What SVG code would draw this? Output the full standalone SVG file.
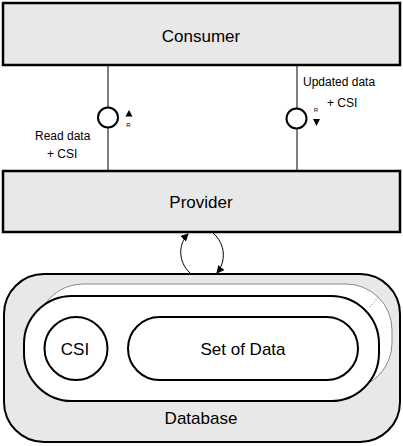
<svg xmlns="http://www.w3.org/2000/svg" width="403" height="446" viewBox="0 0 403 446">
<style>
  .box { fill: #e8e8e8; stroke: #000; stroke-width: 2.5; }
  .line { fill: none; stroke: #000; stroke-width: 1; }
  .thick { fill: none; stroke: #000; stroke-width: 2; }
  .big { font-family: "Liberation Sans", Arial, sans-serif; font-size: 17px; fill: #000; text-anchor: middle; }
  .small { font-family: "Liberation Sans", Arial, sans-serif; font-size: 12px; fill: #000; }
  .tiny { font-family: "Liberation Sans", Arial, sans-serif; font-size: 6px; fill: #000; text-anchor: middle; }
</style>
<defs>
  <marker id="arr" markerWidth="8" markerHeight="8" refX="7" refY="4" orient="auto" markerUnits="userSpaceOnUse">
    <path d="M0,0 L8,4 L0,8 z" fill="#000"/>
  </marker>
</defs>
<rect width="403" height="446" fill="#fff"/>
<g id="connectors">
  <line class="line" x1="108" y1="66" x2="108" y2="107"/>
  <line class="line" x1="108" y1="128" x2="108" y2="171"/>
  <circle cx="108" cy="117.5" r="10" fill="#fff" stroke="#000" stroke-width="2"/>
  <path d="M129,110 L125.5,116.5 L132.5,116.5 z" fill="#000"/>
  <text class="tiny" x="128.5" y="127">R</text>
  <text class="small" x="35" y="140">Read data</text>
  <text class="small" x="47" y="158">+ CSI</text>

  <line class="line" x1="297" y1="66" x2="297" y2="108"/>
  <line class="line" x1="297" y1="129" x2="297" y2="171"/>
  <circle cx="296.5" cy="118.5" r="10" fill="#fff" stroke="#000" stroke-width="2"/>
  <path d="M313,119 L320,119 L316.5,126 z" fill="#000"/>
  <text class="tiny" x="316" y="112">R</text>
  <text class="small" x="303" y="86">Updated data</text>
  <text class="small" x="327" y="107">+ CSI</text>

  <path class="line" d="M190,273 C178,262 178,244 188,234" marker-end="url(#arr)"/>
  <path class="line" d="M213,233 C226,244 226,262 217,273" marker-end="url(#arr)"/>
</g>
<g id="consumer">
  <rect class="box" x="3" y="3" width="397" height="62"/>
  <text class="big" x="201" y="42">Consumer</text>
</g>
<g id="provider">
  <rect class="box" x="3" y="171" width="397" height="61"/>
  <text class="big" x="201" y="208">Provider</text>
</g>
<g id="database">
  <rect x="4" y="274" width="396" height="168" rx="40" ry="40" fill="#e8e8e8" stroke="#000" stroke-width="2"/>
  <rect x="37" y="284" width="355" height="105" rx="46" ry="46" fill="#fff" stroke="#888" stroke-width="1"/>
  <path d="M370,307 L378,297" fill="none" stroke="#666" stroke-width="1" stroke-dasharray="1,2"/>
  <rect x="24" y="296" width="355" height="105" rx="48" ry="48" fill="#fff" stroke="#000" stroke-width="2"/>
  <text class="big" x="201" y="424">Database</text>
</g>
<g id="csi">
  <circle cx="76" cy="348.5" r="31.5" fill="#fff" stroke="#000" stroke-width="2"/>
  <text class="big" x="75" y="355">CSI</text>
</g>
<g id="setofdata">
  <rect x="128" y="317" width="230" height="63" rx="31.5" ry="31.5" fill="#fff" stroke="#000" stroke-width="2"/>
  <text class="big" x="243" y="355">Set of Data</text>
</g>
</svg>
